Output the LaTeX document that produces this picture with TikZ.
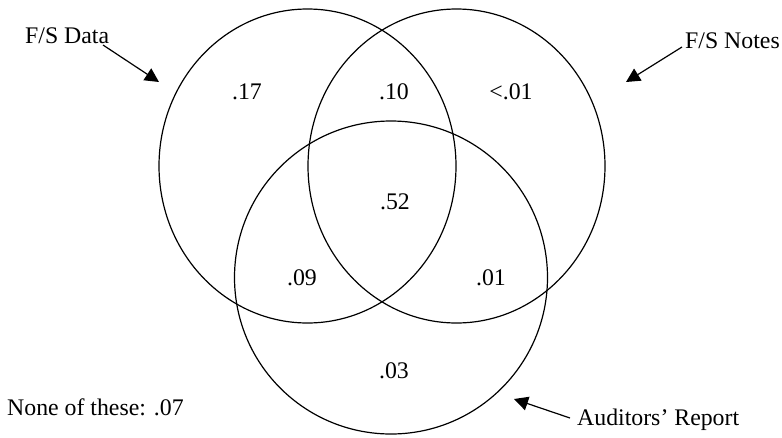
\documentclass[tikz,border=0pt]{standalone}
\usepackage{fontspec}
\setmainfont{Liberation Serif}
\usetikzlibrary{arrows.meta}
\begin{document}
\begin{tikzpicture}[x=1pt,y=-1pt,
  lbl/.style={inner sep=0pt,anchor=base,font=\fontsize{23.8}{28}\selectfont},
  ring/.style={draw=black,line width=1.2pt},
  pointer/.style={line width=1.2pt,-{Triangle[length=14pt,width=14pt]}}]
\useasboundingbox (0,0) rectangle (782,437);
% sets
\draw[ring] (307.5,166) ellipse [x radius=148.5, y radius=157];
\draw[ring] (456.5,166) ellipse [x radius=148.5, y radius=157];
\draw[ring] (391,277.5) circle [radius=156.5];
% region values
\node[lbl] (v17) at (247,99) {.17};
\node[lbl] (v10) at (394,99) {.10};
\node[lbl] (vlt) at (511,99) {<.01};
\node[lbl] (v52) at (395,209) {.52};
\node[lbl] (v09) at (302,285) {.09};
\node[lbl] (v01) at (491,285) {.01};
\node[lbl] (v03) at (394,378) {.03};
% labels
\node[lbl,anchor=base west] (fsdata) at (25,43) {F/S Data};
\node[lbl,anchor=base west] (fsnotes) at (685,48) {F/S Notes};
\node[lbl,anchor=base west] (audit) at (577,425) {Auditors’ Report};
\node[lbl,anchor=base west] (none) at (7,415) {None of these: .07};
% arrows
\coordinate (t1) at (103,45); \coordinate (h1) at (159,82);
\coordinate (t2) at (682,47); \coordinate (h2) at (626,82);
\coordinate (t3) at (570,418); \coordinate (h3) at (514,399);
\draw[pointer] (t1) -- (h1);
\draw[pointer] (t2) -- (h2);
\draw[pointer] (t3) -- (h3);
\end{tikzpicture}
\end{document}
